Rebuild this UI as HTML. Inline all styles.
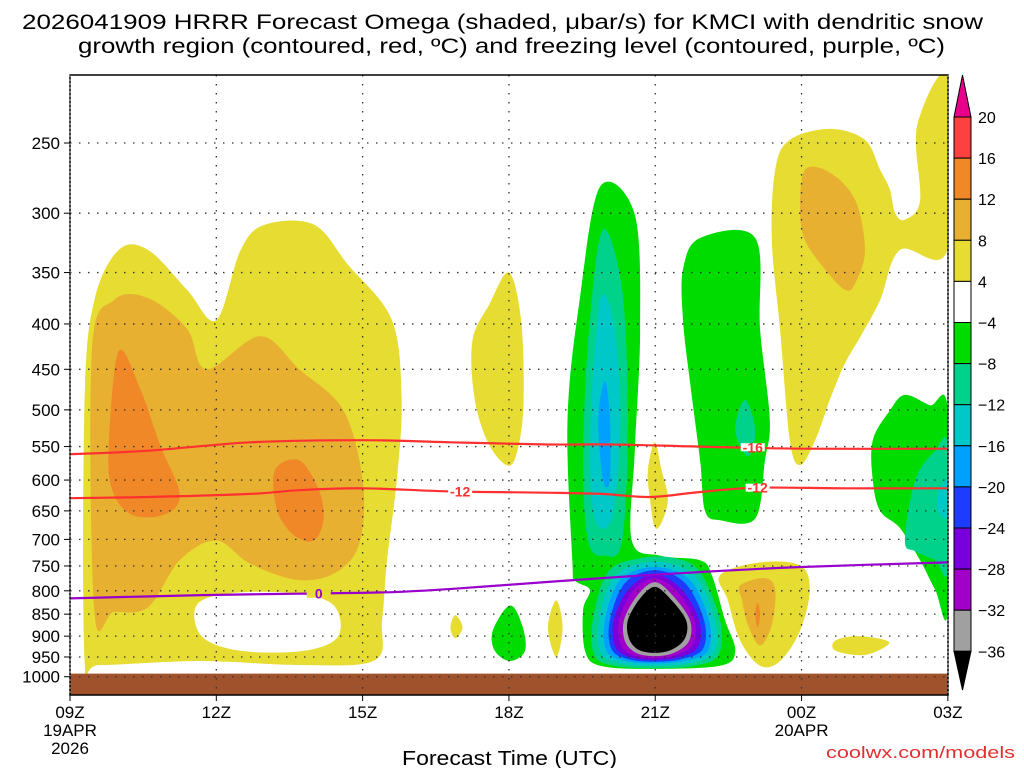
<!DOCTYPE html>
<html><head><meta charset="utf-8"><style>
html,body{margin:0;padding:0;background:#fff;}
svg{display:block;font-family:"Liberation Sans",sans-serif;}
</style></head><body>
<svg id="chart" width="1024" height="768" viewBox="0 0 1024 768" xmlns="http://www.w3.org/2000/svg">
<text x="22" y="29" textLength="961" lengthAdjust="spacingAndGlyphs" font-size="21" fill="#000">2026041909 HRRR Forecast Omega (shaded, μbar/s) for KMCI with dendritic snow</text>
<text x="78" y="53" textLength="867" lengthAdjust="spacingAndGlyphs" font-size="21" fill="#000">growth region (contoured, red, ºC) and freezing level (contoured, purple, ºC)</text>
<g id="fills"></g>
<g id="grid"></g>
<g id="lines"></g>
<g id="axes"></g>
<g id="cbar"></g>
<text x="402" y="765" textLength="215" lengthAdjust="spacingAndGlyphs" font-size="20" fill="#000">Forecast Time (UTC)</text>
<text x="826" y="758" textLength="189" lengthAdjust="spacingAndGlyphs" font-size="17" fill="#e03030">coolwx.com/models</text>
</svg>
<script>
// ---- data ----
const xTickLabels = ["09Z","12Z","15Z","18Z","21Z","00Z","03Z"];
const xTickHours = [0,3,6,9,12,15,18];
const yTicks = [250,300,350,400,450,500,550,600,650,700,750,800,850,900,950,1000];
const cbarLevels = [20,16,12,8,4,-4,-8,-12,-16,-20,-24,-28,-32,-36];
const cbarColors = ["#e8008a","#ff4040","#f08828","#e8b030","#e6dc32","#ffffff","#00dc00","#00d28c","#00c8c8","#00a0ff","#1e3cff","#7800dc","#a000c8","#a0a0a0","#000000"];
// shaded regions: [hour, hPa] vertices
const yellowLeft = [[0.3,958],[0.3,487],[0.5,376],[1.0,330],[1.6,330],[2.4,366],[3.0,396],[3.5,330],[4.0,309],[5.0,309],[5.7,343],[6.6,396],[6.8,487],[6.7,600],[6.5,739],[6.4,863],[6.25,958],[4.7,970],[2.7,960],[0.6,970]];
const holeLeft = [[2.6,830],[3.3,805],[4.6,805],[5.4,830],[5.5,900],[4.8,935],[3.5,935],[2.7,900]];
const goldLeft = [[0.5,845],[0.45,429],[0.9,376],[1.6,374],[2.4,405],[2.8,450],[3.9,413],[4.7,450],[5.6,500],[6.0,600],[5.95,702],[5.5,760],[4.7,778],[3.7,746],[3.0,702],[2.25,739],[1.6,835],[0.9,845]];
const orangeLeft = [[0.8,541],[1.0,429],[1.45,475],[1.85,548],[2.25,622],[1.95,656],[1.25,656],[0.85,612]];
const orangeMid = [[4.2,585],[4.7,570],[5.1,615],[5.2,664],[5.0,702],[4.6,693],[4.25,650]];
const yellow18 = [[8.25,418],[8.6,380],[9.0,350],[9.25,396],[9.3,487],[9.2,548],[9.0,578],[8.6,548],[8.3,487]];
const greenMain = [[10.3,739],[10.2,513],[10.45,376],[10.87,280],[11.58,301],[11.69,406],[11.58,556],[11.52,702],[12.1,730],[12.92,739],[13.16,768],[13.43,863],[13.64,935],[13.33,972],[11.89,980],[10.87,972],[10.56,935],[10.52,841],[10.66,798],[10.35,778]];
const tealCol = [[10.52,556],[10.66,396],[10.93,313],[11.32,366],[11.44,513],[11.32,702],[10.97,730],[10.62,702]];
const cyanCol = [[10.66,541],[10.87,376],[11.17,406],[11.28,527],[11.11,663],[10.76,663]];
const blueCol = [[10.83,513],[10.97,464],[11.07,513],[11.07,600],[10.93,600]];
const tealBot = [[10.72,863],[11.03,762],[11.69,735],[12.41,735],[12.92,762],[13.33,863],[13.3,945],[12.8,972],[11.99,978],[11.15,972],[10.75,945]];
const cyanBot = [[10.85,863],[11.17,770],[11.99,742],[12.82,770],[13.22,863],[13.2,940],[12.7,966],[11.99,972],[11.28,966],[10.88,940]];
const blueBot = [[10.97,863],[11.28,778],[11.99,752],[12.71,778],[13.1,863],[13.08,935],[12.6,960],[11.99,966],[11.38,960],[11.0,935]];
const dblueBot = [[11.07,863],[11.38,784],[11.99,758],[12.61,784],[13.0,863],[12.98,930],[12.55,955],[11.99,962],[11.43,955],[11.1,930]];
const purpBot = [[11.15,863],[11.46,796],[11.99,766],[12.53,796],[12.9,863],[12.88,925],[12.5,950],[11.99,958],[11.48,950],[11.18,925]];
const magBot = [[11.26,863],[11.54,800],[11.99,774],[12.44,800],[12.8,863],[12.78,918],[12.45,945],[11.99,953],[11.53,945],[11.28,918]];
const grayBot = [[11.36,863],[11.63,810],[11.99,782],[12.36,810],[12.71,863],[12.69,912],[12.38,940],[11.99,948],[11.61,940],[11.38,912]];
const blackBot = [[11.44,863],[11.69,816],[11.99,792],[12.3,816],[12.63,863],[12.61,905],[12.34,932],[11.99,940],[11.65,932],[11.46,905]];
const yellow21 = [[11.99,544],[12.13,585],[12.26,630],[12.13,670],[11.99,678],[11.89,630],[11.85,585]];
const yellowA = [[9.97,820],[10.1,880],[9.97,950],[9.8,880]];
const yellowB = [[7.9,852],[8.05,880],[7.9,905],[7.8,880]];
const greenSmall = [[9.02,831],[9.27,874],[9.33,935],[9.02,960],[8.71,935],[8.67,887]];
const greenRight = [[12.57,347],[12.92,320],[14.05,320],[14.15,406],[14.35,513],[14.25,570],[14.05,663],[13.33,666],[13.02,650],[12.92,570],[12.71,464],[12.57,396]];
const tealRight = [[13.84,487],[14.05,527],[13.9,564],[13.64,527]];
const yellowRight = [[14.46,268],[14.76,248],[15.58,241],[16.3,248],[16.61,268],[16.81,282],[16.92,300],[17.12,305],[17.43,290],[17.37,239],[18,211],[18,329],[17.02,330],[16.61,376],[16.2,414],[15.89,443],[15.58,487],[15.28,541],[14.97,577],[14.76,541],[14.56,406],[14.39,322]];
const goldRight = [[15.07,268],[15.58,270],[16.1,290],[16.3,330],[16.1,360],[15.89,366],[15.48,347],[15.07,322],[14.97,297]];
const greenFar = [[16.46,541],[16.81,501],[17.12,481],[17.63,494],[18,501],[18,841],[17.74,798],[17.43,739],[17.02,680],[16.61,650],[16.46,600]];
const tealFar = [[17.12,702],[17.33,600],[17.74,556],[18,549],[18,758],[17.74,739],[17.33,722]];
const cyanFar = [[17.8,620],[18,600],[18,660],[17.8,650]];
const yellowBR = [[13.33,768],[14.15,743],[14.97,749],[15.17,798],[14.97,887],[14.56,960],[14.15,972],[13.74,910],[13.49,820]];
const goldBR = [[13.74,789],[14.25,774],[14.46,798],[14.39,874],[14.15,922],[13.9,874],[13.78,820]];
const orangeBR = [[14.1,825],[14.15,850],[14.1,880],[14.05,850]];
const yellowBR2 = [[15.7,910],[16.2,900],[16.8,915],[16.3,945],[15.7,935]];
// contour lines [hour, hPa]
const lineM16 = [[0,561],[1.6,556],[3.7,544],[6.0,541],[7.8,544],[9.8,547],[11.1,547],[12.9,550],[15,553],[18,553]];
const lineM12 = [[0,629],[1.6,627],[3.7,622],[4.7,616],[6.0,613],[7.8,618],[9.8,620],[10.9,622],[11.9,627],[12.9,619],[14.1,612],[15.9,613],[18,613]];
const lineZero = [[0,816],[2.7,809],[4.7,806],[6.8,802],[8.8,789],[10.9,774],[12.9,762],[15,752],[18,743]];

// ---- scales ----
const X0=70, PXH=48.77, Y250=143, K=385;
function xs(h){return X0+h*PXH;}
function ys(p){return Y250+K*Math.log(p/250);}
const NS="http://www.w3.org/2000/svg";
function mk(tag,attrs,parent){const e=document.createElementNS(NS,tag);for(const k in attrs)e.setAttribute(k,attrs[k]);parent.appendChild(e);return e;}
function smooth(pts,closed){
  const P=pts.map(d=>[xs(d[0]),ys(d[1])]);const n=P.length;
  let s="M"+P[0][0].toFixed(1)+","+P[0][1].toFixed(1);
  const last=closed?n:n-1;
  for(let i=0;i<last;i++){
    const p0=P[closed?(i-1+n)%n:Math.max(i-1,0)],p1=P[i],p2=P[(i+1)%n],p3=P[closed?(i+2)%n:Math.min(i+2,n-1)];
    const c1=[p1[0]+(p2[0]-p0[0])/6,p1[1]+(p2[1]-p0[1])/6],c2=[p2[0]-(p3[0]-p1[0])/6,p2[1]-(p3[1]-p1[1])/6];
    s+="C"+c1.map(v=>v.toFixed(1))+" "+c2.map(v=>v.toFixed(1))+" "+p2.map(v=>v.toFixed(1));
  }
  return s+(closed?"Z":"");
}
const fills=document.getElementById("fills");
const clip=mk("clipPath",{id:"plotclip"},mk("defs",{},fills));
mk("rect",{x:70,y:75,width:878,height:620},clip);
const fg=mk("g",{"clip-path":"url(#plotclip)"},fills);
const regions=[
 ["yellow-left",4,yellowLeft],["hole-left",5,holeLeft],["gold-left",3,goldLeft],["orange-left",2,orangeLeft],["orange-mid",2,orangeMid],
 ["yellow-18z",4,yellow18],["yellow-21z",4,yellow21],["yellow-a",4,yellowA],["yellow-b",4,yellowB],["green-small",6,greenSmall],
 ["green-main",6,greenMain],["teal-column",7,tealCol],["cyan-column",8,cyanCol],["blue-column",9,blueCol],
 ["teal-bottom",7,tealBot],["cyan-bottom",8,cyanBot],["blue-bottom",9,blueBot],["darkblue-bottom",10,dblueBot],["purple-bottom",11,purpBot],["magenta-bottom",12,magBot],["gray-bottom",13,grayBot],["black-core",14,blackBot],
 ["green-right",6,greenRight],["teal-right",7,tealRight],["yellow-right",4,yellowRight],["gold-right",3,goldRight],
 ["green-far-right",6,greenFar],["teal-far-right",7,tealFar],["cyan-far-right",8,cyanFar],
 ["yellow-bottom-right",4,yellowBR],["gold-bottom-right",3,goldBR],["orange-bottom-right",2,orangeBR],["yellow-bottom-right-2",4,yellowBR2]
];
regions.forEach(r=>{
  const e=mk("path",{d:smooth(r[2],true),fill:cbarColors[r[1]]},fg);
  
  
});
const gr=mk("rect",{x:70,y:ys(992),width:878,height:695-ys(992),fill:"#a0522d"},fg);



// grid
const grid=document.getElementById("grid");
yTicks.forEach(p=>{mk("line",{x1:70,x2:948,y1:ys(p),y2:ys(p),stroke:"#333","stroke-width":1.3,"stroke-dasharray":"1.5,7.5"},grid);});
xTickHours.slice(1,-1).forEach(h=>{mk("line",{x1:xs(h),x2:xs(h),y1:75,y2:695,stroke:"#333","stroke-width":1.3,"stroke-dasharray":"1.5,7.5"},grid);});

// lines
const lg=document.getElementById("lines");
[[lineM16,"#ff3030","dgz-minus16-line"],[lineM12,"#ff3030","dgz-minus12-line"],[lineZero,"#9900cc","freezing-level-line"]].forEach(l=>{
  const e=mk("path",{d:smooth(l[0],false),fill:"none",stroke:l[1],"stroke-width":2.2},lg);
  
  
});
function lab(t,h,p,c,name,bg){
  mk("rect",{x:xs(h)-12,y:ys(p)-4,width:24,height:8,fill:bg},lg);
  const e=mk("text",{x:xs(h),y:ys(p)+5,"text-anchor":"middle","font-size":14,"font-weight":"bold",fill:c},lg);
  e.textContent=t;
  
  
}
lab("-12",8.0,618,"#ff3030","label-minus12-a","#ffffff");
lab("-12",14.1,612,"#ff3030","label-minus12-b","#ffffff");
lab("-16",14.0,551,"#ff3030","label-minus16","#ffffff");
lab("0",5.1,806,"#9900cc","label-zero","#e6dc32");

// axes
const ax=document.getElementById("axes");
mk("rect",{x:70,y:75,width:878,height:620,fill:"none",stroke:"#000","stroke-width":1.5},ax);
mk("line",{x1:70,x2:70,y1:75,y2:695,stroke:"#888","stroke-width":1,"stroke-dasharray":"2,2"},ax);
mk("line",{x1:948,x2:948,y1:75,y2:695,stroke:"#888","stroke-width":1,"stroke-dasharray":"2,2"},ax);
yTicks.forEach(p=>{
  mk("line",{x1:64,x2:70,y1:ys(p),y2:ys(p),stroke:"#000"},ax);
  const t=mk("text",{x:60,y:ys(p)+6,"text-anchor":"end","font-size":17,fill:"#000"},ax);
  t.textContent=p;
  
  
});
xTickHours.forEach((h,i)=>{
  mk("line",{x1:xs(h),x2:xs(h),y1:695,y2:701,stroke:"#000"},ax);
  const t=mk("text",{x:xs(h),y:718,"text-anchor":"middle","font-size":17,fill:"#000"},ax);
  t.textContent=xTickLabels[i];
  
  
});
[["19APR",0,736],["2026",0,754],["20APR",15,736]].forEach(d=>{
  const t=mk("text",{x:xs(d[1]),y:d[2],"text-anchor":"middle","font-size":17,fill:"#000"},ax);
  t.textContent=d[0];
  
  
});

// colorbar
const cb=document.getElementById("cbar");
const CBX=954,CBW=17,CTOP=117,STEP=41.1;
mk("path",{d:`M${CBX},${CTOP} L${CBX+CBW/2},75 L${CBX+CBW},${CTOP} Z`,fill:cbarColors[0],stroke:"#000"},cb);
for(let i=0;i<cbarLevels.length-1;i++){
  mk("rect",{x:CBX,y:CTOP+i*STEP,width:CBW,height:STEP,fill:cbarColors[i+1],stroke:"#000","stroke-width":1},cb);
}
const cbBot=CTOP+(cbarLevels.length-1)*STEP;
mk("path",{d:`M${CBX},${cbBot} L${CBX+CBW/2},690 L${CBX+CBW},${cbBot} Z`,fill:"#000",stroke:"#000"},cb);
cbarLevels.forEach((v,i)=>{
  const t=mk("text",{x:978,y:CTOP+i*STEP+6,"font-size":16,fill:"#000"},cb);
  t.textContent=v<0?"−"+(-v):String(v);
  
  
});
</script>
</body></html>
